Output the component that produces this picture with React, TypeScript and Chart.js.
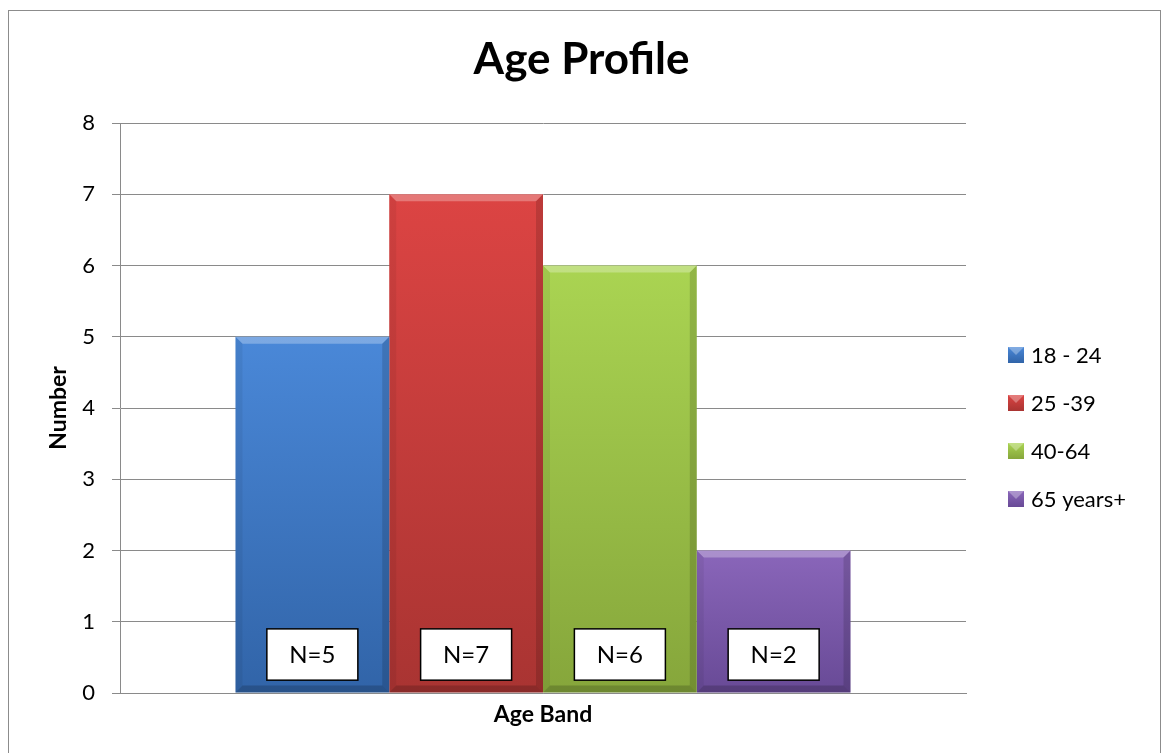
import React, { useEffect, useRef } from 'react';
import { Chart, registerables } from 'chart.js';

Chart.register(...registerables);

// ---- data ----
const categories = [''];
const seriesLabels = ['18 - 24', '25 -39', '40-64', '65 years+'];
const seriesValues = [5, 7, 6, 2];
const countLabels = ['N=5', 'N=7', 'N=6', 'N=2'];
const yMin = 0;
const yMax = 8;
const yStep = 1;
const chartTitle = 'Age Profile';
const yAxisTitle = 'Number';
const xAxisTitle = 'Age Band';

// ---- styles ----
const FONT = 'Lato, "Open Sans", "DejaVu Sans", sans-serif';
const palettes = [
  { top: '#4a88d8', bottom: '#3164a8' },
  { top: '#dc4443', bottom: '#a93432' },
  { top: '#aad452', bottom: '#86a63b' },
  { top: '#8a66ba', bottom: '#684a96' },
];
const GRID = '#8a8a8a';

const barFill = (i: number) => (ctx: any) => {
  const chart = ctx.chart;
  const ys = chart.scales && chart.scales.y;
  const pal = palettes[i];
  if (!ys || ctx.type !== 'data' || !ctx.parsed) return pal.top;
  const top = ys.getPixelForValue(ctx.parsed.y);
  const bottom = ys.getPixelForValue(0);
  if (!isFinite(top) || !isFinite(bottom) || top === bottom) return pal.top;
  const g = chart.ctx.createLinearGradient(0, top, 0, bottom);
  g.addColorStop(0, pal.top);
  g.addColorStop(1, pal.bottom);
  return g;
};

const bevelPlugin = {
  id: 'bevelAndCounts',
  afterDatasetsDraw(chart: any) {
    const { ctx } = chart;
    const ys = chart.scales.y;
    chart.data.datasets.forEach((ds: any, di: number) => {
      const meta = chart.getDatasetMeta(di);
      meta.data.forEach((el: any) => {
        const { x, y, base, width } = el.getProps(['x', 'y', 'base', 'width'], true);
        const l = x - width / 2;
        const r = x + width / 2;
        const t = Math.min(y, base);
        const b = Math.max(y, base);
        const bv = 7;
        ctx.save();
        ctx.beginPath();
        ctx.moveTo(l, t); ctx.lineTo(r, t); ctx.lineTo(r - bv, t + bv); ctx.lineTo(l + bv, t + bv); ctx.closePath();
        ctx.fillStyle = 'rgba(255,255,255,0.28)';
        ctx.fill();
        ctx.beginPath();
        ctx.moveTo(l, t); ctx.lineTo(l + bv, t + bv); ctx.lineTo(l + bv, b - bv); ctx.lineTo(l, b); ctx.closePath();
        ctx.fillStyle = 'rgba(0,0,0,0.06)';
        ctx.fill();
        ctx.beginPath();
        ctx.moveTo(r, t); ctx.lineTo(r - bv, t + bv); ctx.lineTo(r - bv, b - bv); ctx.lineTo(r, b); ctx.closePath();
        ctx.fillStyle = 'rgba(0,0,0,0.14)';
        ctx.fill();
        ctx.beginPath();
        ctx.moveTo(l, b); ctx.lineTo(l + bv, b - bv); ctx.lineTo(r - bv, b - bv); ctx.lineTo(r, b); ctx.closePath();
        ctx.fillStyle = 'rgba(0,0,0,0.18)';
        ctx.fill();
        ctx.restore();

        const label = countLabels[di];
        if (label) {
          const boxW = 91;
          const bt = ys.getPixelForValue(0.9);
          const bb = ys.getPixelForValue(0.18);
          ctx.save();
          ctx.fillStyle = '#ffffff';
          ctx.fillRect(x - boxW / 2, bt, boxW, bb - bt);
          ctx.lineWidth = 1.5;
          ctx.strokeStyle = '#000000';
          ctx.strokeRect(x - boxW / 2, bt, boxW, bb - bt);
          ctx.fillStyle = '#000000';
          ctx.font = '24px ' + FONT;
          ctx.textAlign = 'center';
          ctx.textBaseline = 'middle';
          ctx.fillText(label, x, (bt + bb) / 2 + 1);
          ctx.restore();
        }
      });
    });
  },
};

const legendPlugin = {
  id: 'sideLegend',
  afterDraw(chart: any) {
    const { ctx, chartArea } = chart;
    const boxX = chartArea.right + 42;
    const firstY = 355;
    const step = 48;
    const size = 16;
    chart.data.datasets.forEach((ds: any, i: number) => {
      const cy = firstY + i * step;
      const pal = palettes[i];
      ctx.save();
      const g = ctx.createLinearGradient(0, cy - size / 2, 0, cy + size / 2);
      g.addColorStop(0, pal.top);
      g.addColorStop(1, pal.bottom);
      ctx.fillStyle = g;
      ctx.fillRect(boxX, cy - size / 2, size, size);
      ctx.beginPath();
      ctx.moveTo(boxX, cy - size / 2);
      ctx.lineTo(boxX + size, cy - size / 2);
      ctx.lineTo(boxX + size / 2, cy);
      ctx.closePath();
      ctx.fillStyle = 'rgba(255,255,255,0.3)';
      ctx.fill();
      ctx.fillStyle = '#000000';
      ctx.font = '22px ' + FONT;
      ctx.textAlign = 'left';
      ctx.textBaseline = 'middle';
      ctx.fillText(ds.label, boxX + size + 7, cy + 1);
      ctx.restore();
    });
  },
};

export default function App() {
  const canvasRef = useRef<HTMLCanvasElement | null>(null);

  useEffect(() => {
    const canvas = canvasRef.current;
    if (!canvas) return;
    const chart = new Chart(canvas, {
      type: 'bar',
      data: {
        labels: categories,
        datasets: seriesLabels.map((label, i) => ({
          label,
          data: [seriesValues[i]],
          backgroundColor: barFill(i),
          borderWidth: 0,
          categoryPercentage: 0.727,
          barPercentage: 1,
        })),
      },
      options: {
        animation: false,
        responsive: false,
        devicePixelRatio: 1,
        layout: { padding: { left: 0, right: 0, top: 0, bottom: 0 } },
        plugins: {
          legend: { display: false },
          tooltip: { enabled: false },
          title: {
            display: true,
            text: chartTitle,
            color: '#000000',
            font: { family: FONT, size: 44, weight: 'bold', lineHeight: 1.2 },
            padding: { top: 33.6, bottom: 36.6 },
          },
        },
        scales: {
          x: {
            type: 'category',
            offset: true,
            grid: { display: false },
            border: { display: true, color: GRID, width: 1 },
            ticks: { display: false },
            title: {
              display: true,
              text: xAxisTitle,
              color: '#000000',
              font: { family: FONT, size: 23, weight: 'bold', lineHeight: 1.2 },
              padding: { top: 0, bottom: 25 },
            },
            afterFit: (s: any) => { s.height = 60; },
          },
          y: {
            type: 'linear',
            position: 'left',
            min: yMin,
            max: yMax,
            ticks: {
              stepSize: yStep,
              color: '#000000',
              font: { family: FONT, size: 22 },
              padding: 17,
            },
            grid: { color: GRID, lineWidth: 1, drawTicks: true, tickLength: 8 },
            border: { display: true, color: GRID, width: 1 },
            title: {
              display: true,
              text: yAxisTitle,
              color: '#000000',
              font: { family: FONT, size: 23, weight: 'bold', lineHeight: 1.2 },
              padding: { top: 45, bottom: 0 },
            },
            afterFit: (s: any) => { s.width = 120; },
          },
          legendSpace: {
            type: 'linear',
            position: 'right',
            display: true,
            grid: { display: false, drawTicks: false },
            border: { display: false },
            ticks: { display: false },
            afterFit: (s: any) => { s.width = 197; },
          },
        },
      } as any,
      plugins: [bevelPlugin, legendPlugin],
    });
    return () => chart.destroy();
  }, []);

  return (
    <div style={{ position: 'absolute', left: 0, top: 0, width: 1163, height: 753, overflow: 'hidden', background: '#ffffff' }}>
      <div
        style={{
          position: 'absolute',
          left: 8,
          top: 10,
          width: 1153,
          height: 800,
          border: '1px solid #8c8c8c',
          boxSizing: 'border-box',
        }}
      />
      <canvas ref={canvasRef} width={1163} height={753} style={{ position: 'absolute', left: 0, top: 0 }} />
    </div>
  );
}
